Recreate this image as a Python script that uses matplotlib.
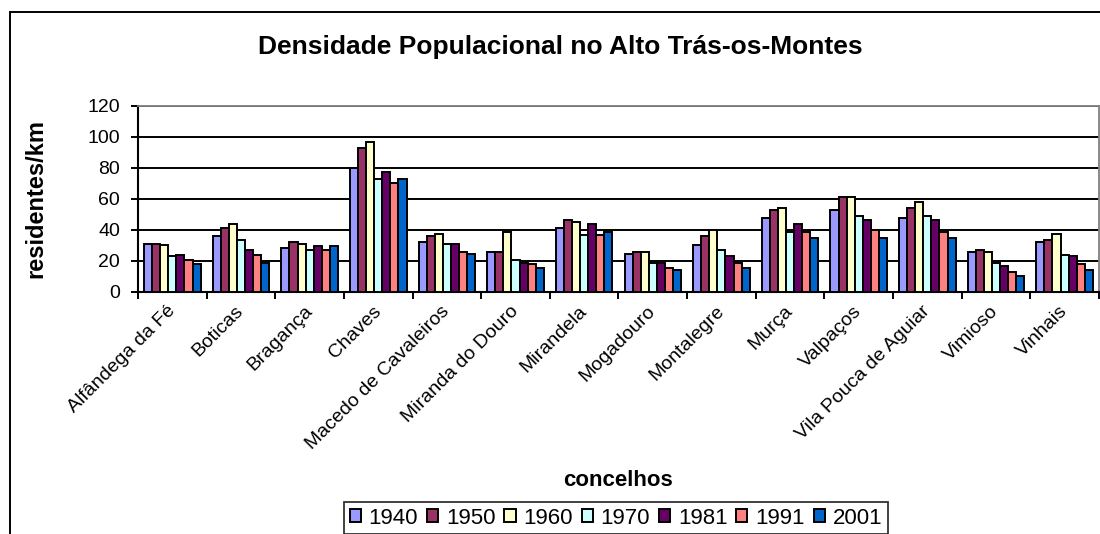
import matplotlib
matplotlib.use("Agg")
import matplotlib.pyplot as plt
from matplotlib.patches import Rectangle
import numpy as np

plt.rcParams['font.family'] = ['Liberation Sans', 'DejaVu Sans']

concelhos = ['Alfândega da Fé', 'Boticas', 'Bragança', 'Chaves',
             'Macedo de Cavaleiros', 'Miranda do Douro', 'Mirandela',
             'Mogadouro', 'Montalegre', 'Murça', 'Valpaços',
             'Vila Pouca de Aguiar', 'Vimioso', 'Vinhais']
anos = ['1940', '1950', '1960', '1970', '1981', '1991', '2001']

d1940 = [31, 36, 28.5, 80, 32, 26, 41.5, 24.5, 30, 48, 53, 48, 26, 32]
d1950 = [31, 41, 32, 93, 36, 26, 46.5, 26, 36, 53, 61, 54, 27, 33.5]
d1960 = [30, 44, 31, 97, 37.5, 38.5, 45, 26, 40, 54, 61, 58, 26, 37.5]
d1970 = [23, 33.5, 27, 73, 31, 20.5, 37, 19, 27, 38.5, 49, 49, 19, 24]
d1981 = [24, 27, 29.5, 77.5, 31, 19, 44, 19, 23, 44, 46.5, 46.5, 17, 23]
d1991 = [20.5, 24, 27, 70, 26, 18, 37, 15.5, 19, 38.5, 40, 39, 13, 18]
d2001 = [18, 19, 29.5, 73, 24.5, 15.5, 38.5, 14, 15.5, 35, 35, 35, 10, 14]
series = [d1940, d1950, d1960, d1970, d1981, d1991, d2001]

cores = ['#9999FF', '#993366', '#FFFFCC', '#CCFFFF', '#660066', '#FF8080', '#0066CC']

fig = plt.figure(figsize=(11, 5.34), dpi=100)
ax = fig.add_axes([0.1255, 0.4532, 0.8735, 0.3483])

x = np.arange(len(concelhos))
w = 1 / 8.5
for i, (vals, c) in enumerate(zip(series, cores)):
    ax.bar(x + (i - 3) * w, vals, w, color=c, edgecolor='black',
           linewidth=1.4, label=anos[i], zorder=3)

ax.set_xlim(-0.5, len(concelhos) - 0.5)
ax.set_ylim(0, 120)
ax.set_yticks(range(0, 121, 20))
ax.yaxis.grid(True, color='black', linewidth=1.4, zorder=0)
ax.set_axisbelow(True)

ax.set_xticks(x)
ax.set_xticklabels(concelhos, rotation=45, ha='right', va='center',
                   rotation_mode='anchor', fontsize=14)
ax.set_xticks(np.arange(-0.5, len(concelhos)), minor=True)
ax.tick_params(axis='x', which='major', length=0, pad=12)
ax.tick_params(axis='x', which='minor', length=5, width=1.4, direction='out')
ax.tick_params(axis='y', length=5, width=1.4, labelsize=14, pad=8)

for s in ['top', 'right']:
    ax.spines[s].set_color('#808080')
    ax.spines[s].set_linewidth(1.3)
for s in ['left', 'bottom']:
    ax.spines[s].set_linewidth(1.5)

ax.set_xlabel('concelhos', fontsize=16, fontweight='bold')
ax.xaxis.set_label_coords(0.5, -0.957)
ax.set_ylabel('residentes/km', fontsize=17, fontweight='bold')
ax.yaxis.set_label_coords(-0.094, 0.5)

fig.text(560 / 1100, 1 - 47 / 534, 'Densidade Populacional no Alto Trás-os-Montes',
         fontsize=19, fontweight='bold', ha='center', va='center')

leg = fig.legend(loc='upper center', bbox_to_anchor=(616 / 1100, 1 - 502 / 534),
                 ncol=7, fontsize=16, frameon=True, fancybox=False,
                 handlelength=0.5, handleheight=0.5, handletextpad=0.35,
                 columnspacing=0.4, borderpad=0.25, borderaxespad=0)
leg.get_frame().set_edgecolor('black')
leg.get_frame().set_linewidth(1.3)

fig.patches.append(Rectangle((10 / 1100, -0.2), 1.2, 1 - 12 / 534 + 0.2,
                             transform=fig.transFigure, fill=False,
                             edgecolor='black', linewidth=1.4))

fig.savefig('out.png', dpi=100)
